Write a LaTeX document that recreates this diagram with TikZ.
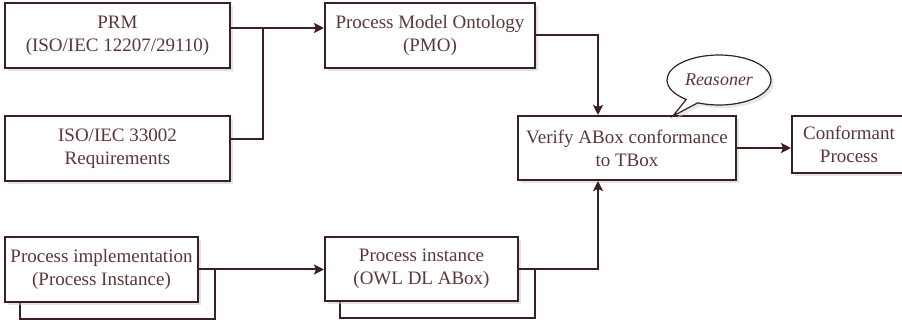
\documentclass[tikz,border=0pt]{standalone}
\usepackage{fontspec}
\setmainfont{Liberation Serif}
\usepackage{xcolor}
\usetikzlibrary{arrows.meta,shapes.callouts,shadows,backgrounds}

\definecolor{edgebrown}{HTML}{3B2020}
\definecolor{textbrown}{HTML}{5A3838}

\begin{document}
\begin{tikzpicture}[
  x=0.5pt, y=-0.5pt,
  font=\fontsize{9.5}{11.5}\selectfont,
  box/.style={draw=edgebrown, line width=1pt, fill=white, text=textbrown, align=center,
    inner sep=0pt, drop shadow={shadow xshift=1.5pt, shadow yshift=-1.5pt, fill=black!22}},
  backbox/.style={draw=edgebrown, line width=1pt, fill=white},
  line/.style={draw=edgebrown, line width=1pt},
  arrow/.style={line, -{Stealth[length=5pt, width=5pt, inset=1pt]}}
]
\useasboundingbox (0,0) rectangle (902,320);

% ontology side
\node[box, minimum width=112.5pt, minimum height=32.5pt] (prm) at (117.5,35.5) {PRM\\(ISO/IEC 12207/29110)};
\node[box, minimum width=112.5pt, minimum height=32.5pt] (req) at (117.5,148.5) {ISO/IEC 33002\\Requirements};
\node[box, minimum width=105pt, minimum height=32.5pt] (pmo) at (430,35.5) {Process Model Ontology\\(PMO)};

% instance side
\node[box, minimum width=96.5pt, minimum height=32.5pt] (impl) at (101.5,269.5) {Process implementation\\(Process Instance)};
\node[box, minimum width=96.5pt, minimum height=32pt] (inst) at (421.5,269) {Process instance\\(OWL DL ABox)};

% check and result
\node[box, minimum width=109pt, minimum height=32pt] (verify) at (627,148) {Verify ABox conformance\\to TBox};
\node[box, minimum width=57pt, minimum height=28.5pt] (conf) at (849,144.5) {Conformant\\Process};

\node[ellipse callout, draw=edgebrown, line width=0.6pt, fill=white, text=textbrown,
  minimum width=52pt, minimum height=25pt, inner sep=0pt,
  callout absolute pointer={(673,116)},
  drop shadow={shadow xshift=1.5pt, shadow yshift=-1.5pt, fill=black!18},
  font=\fontsize{9}{10}\selectfont\itshape] (reasoner) at (719,80) {Reasoner};

% stacked copies behind the instance boxes
\begin{scope}[on background layer]
\draw[backbox] ([xshift=8pt]impl.west) rectangle ([xshift=8pt,yshift=-8pt]impl.south east);
\draw[backbox] ([xshift=8pt]inst.west) rectangle ([xshift=8pt,yshift=-8pt]inst.south east);
\end{scope}

\draw[line] ([yshift=3.75pt]prm.east) -- ++(32,0) coordinate (join);
\draw[line] ([yshift=4.75pt]req.east) -| (join);
\draw[arrow] (join) -- (join -| pmo.west);
\draw[arrow] (pmo.east) -| ([xshift=-14.5pt]verify.north);
\draw[arrow] (verify.east) -- (verify.east -| conf.west);
\draw[arrow] (impl.east) -- (impl.east -| inst.west);
\draw[arrow] (inst.east) -| ([xshift=-14.5pt]verify.south);

\end{tikzpicture}
\end{document}
